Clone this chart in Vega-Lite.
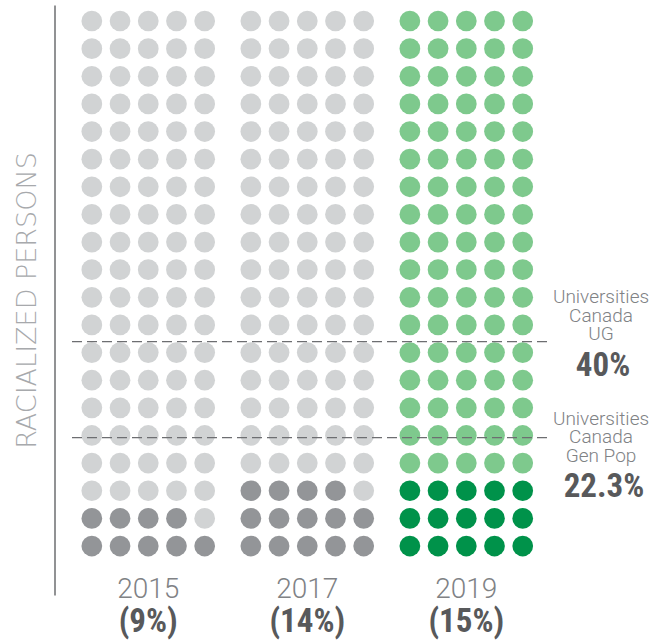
{
  "$schema": "https://vega.github.io/schema/vega-lite/v6.json",
  "width": 475,
  "height": 590,
  "autosize": {"type": "none"},
  "padding": {"left": 72, "top": 5, "right": 121, "bottom": 47},
  "background": "white",
  "config": {"view": {"stroke": null}},
  "datasets": {
    "dots": [
      {"year":"2015","row":1,"col":1,"racialized":true},{"year":"2015","row":1,"col":2,"racialized":true},{"year":"2015","row":1,"col":3,"racialized":true},{"year":"2015","row":1,"col":4,"racialized":true},{"year":"2015","row":1,"col":5,"racialized":true},
      {"year":"2015","row":2,"col":1,"racialized":true},{"year":"2015","row":2,"col":2,"racialized":true},{"year":"2015","row":2,"col":3,"racialized":true},{"year":"2015","row":2,"col":4,"racialized":true},{"year":"2015","row":2,"col":5,"racialized":false},
      {"year":"2015","row":3,"col":1,"racialized":false},{"year":"2015","row":3,"col":2,"racialized":false},{"year":"2015","row":3,"col":3,"racialized":false},{"year":"2015","row":3,"col":4,"racialized":false},{"year":"2015","row":3,"col":5,"racialized":false},
      {"year":"2015","row":4,"col":1,"racialized":false},{"year":"2015","row":4,"col":2,"racialized":false},{"year":"2015","row":4,"col":3,"racialized":false},{"year":"2015","row":4,"col":4,"racialized":false},{"year":"2015","row":4,"col":5,"racialized":false},
      {"year":"2015","row":5,"col":1,"racialized":false},{"year":"2015","row":5,"col":2,"racialized":false},{"year":"2015","row":5,"col":3,"racialized":false},{"year":"2015","row":5,"col":4,"racialized":false},{"year":"2015","row":5,"col":5,"racialized":false},
      {"year":"2015","row":6,"col":1,"racialized":false},{"year":"2015","row":6,"col":2,"racialized":false},{"year":"2015","row":6,"col":3,"racialized":false},{"year":"2015","row":6,"col":4,"racialized":false},{"year":"2015","row":6,"col":5,"racialized":false},
      {"year":"2015","row":7,"col":1,"racialized":false},{"year":"2015","row":7,"col":2,"racialized":false},{"year":"2015","row":7,"col":3,"racialized":false},{"year":"2015","row":7,"col":4,"racialized":false},{"year":"2015","row":7,"col":5,"racialized":false},
      {"year":"2015","row":8,"col":1,"racialized":false},{"year":"2015","row":8,"col":2,"racialized":false},{"year":"2015","row":8,"col":3,"racialized":false},{"year":"2015","row":8,"col":4,"racialized":false},{"year":"2015","row":8,"col":5,"racialized":false},
      {"year":"2015","row":9,"col":1,"racialized":false},{"year":"2015","row":9,"col":2,"racialized":false},{"year":"2015","row":9,"col":3,"racialized":false},{"year":"2015","row":9,"col":4,"racialized":false},{"year":"2015","row":9,"col":5,"racialized":false},
      {"year":"2015","row":10,"col":1,"racialized":false},{"year":"2015","row":10,"col":2,"racialized":false},{"year":"2015","row":10,"col":3,"racialized":false},{"year":"2015","row":10,"col":4,"racialized":false},{"year":"2015","row":10,"col":5,"racialized":false},
      {"year":"2015","row":11,"col":1,"racialized":false},{"year":"2015","row":11,"col":2,"racialized":false},{"year":"2015","row":11,"col":3,"racialized":false},{"year":"2015","row":11,"col":4,"racialized":false},{"year":"2015","row":11,"col":5,"racialized":false},
      {"year":"2015","row":12,"col":1,"racialized":false},{"year":"2015","row":12,"col":2,"racialized":false},{"year":"2015","row":12,"col":3,"racialized":false},{"year":"2015","row":12,"col":4,"racialized":false},{"year":"2015","row":12,"col":5,"racialized":false},
      {"year":"2015","row":13,"col":1,"racialized":false},{"year":"2015","row":13,"col":2,"racialized":false},{"year":"2015","row":13,"col":3,"racialized":false},{"year":"2015","row":13,"col":4,"racialized":false},{"year":"2015","row":13,"col":5,"racialized":false},
      {"year":"2015","row":14,"col":1,"racialized":false},{"year":"2015","row":14,"col":2,"racialized":false},{"year":"2015","row":14,"col":3,"racialized":false},{"year":"2015","row":14,"col":4,"racialized":false},{"year":"2015","row":14,"col":5,"racialized":false},
      {"year":"2015","row":15,"col":1,"racialized":false},{"year":"2015","row":15,"col":2,"racialized":false},{"year":"2015","row":15,"col":3,"racialized":false},{"year":"2015","row":15,"col":4,"racialized":false},{"year":"2015","row":15,"col":5,"racialized":false},
      {"year":"2015","row":16,"col":1,"racialized":false},{"year":"2015","row":16,"col":2,"racialized":false},{"year":"2015","row":16,"col":3,"racialized":false},{"year":"2015","row":16,"col":4,"racialized":false},{"year":"2015","row":16,"col":5,"racialized":false},
      {"year":"2015","row":17,"col":1,"racialized":false},{"year":"2015","row":17,"col":2,"racialized":false},{"year":"2015","row":17,"col":3,"racialized":false},{"year":"2015","row":17,"col":4,"racialized":false},{"year":"2015","row":17,"col":5,"racialized":false},
      {"year":"2015","row":18,"col":1,"racialized":false},{"year":"2015","row":18,"col":2,"racialized":false},{"year":"2015","row":18,"col":3,"racialized":false},{"year":"2015","row":18,"col":4,"racialized":false},{"year":"2015","row":18,"col":5,"racialized":false},
      {"year":"2015","row":19,"col":1,"racialized":false},{"year":"2015","row":19,"col":2,"racialized":false},{"year":"2015","row":19,"col":3,"racialized":false},{"year":"2015","row":19,"col":4,"racialized":false},{"year":"2015","row":19,"col":5,"racialized":false},
      {"year":"2015","row":20,"col":1,"racialized":false},{"year":"2015","row":20,"col":2,"racialized":false},{"year":"2015","row":20,"col":3,"racialized":false},{"year":"2015","row":20,"col":4,"racialized":false},{"year":"2015","row":20,"col":5,"racialized":false},
      {"year":"2017","row":1,"col":1,"racialized":true},{"year":"2017","row":1,"col":2,"racialized":true},{"year":"2017","row":1,"col":3,"racialized":true},{"year":"2017","row":1,"col":4,"racialized":true},{"year":"2017","row":1,"col":5,"racialized":true},
      {"year":"2017","row":2,"col":1,"racialized":true},{"year":"2017","row":2,"col":2,"racialized":true},{"year":"2017","row":2,"col":3,"racialized":true},{"year":"2017","row":2,"col":4,"racialized":true},{"year":"2017","row":2,"col":5,"racialized":true},
      {"year":"2017","row":3,"col":1,"racialized":true},{"year":"2017","row":3,"col":2,"racialized":true},{"year":"2017","row":3,"col":3,"racialized":true},{"year":"2017","row":3,"col":4,"racialized":true},{"year":"2017","row":3,"col":5,"racialized":false},
      {"year":"2017","row":4,"col":1,"racialized":false},{"year":"2017","row":4,"col":2,"racialized":false},{"year":"2017","row":4,"col":3,"racialized":false},{"year":"2017","row":4,"col":4,"racialized":false},{"year":"2017","row":4,"col":5,"racialized":false},
      {"year":"2017","row":5,"col":1,"racialized":false},{"year":"2017","row":5,"col":2,"racialized":false},{"year":"2017","row":5,"col":3,"racialized":false},{"year":"2017","row":5,"col":4,"racialized":false},{"year":"2017","row":5,"col":5,"racialized":false},
      {"year":"2017","row":6,"col":1,"racialized":false},{"year":"2017","row":6,"col":2,"racialized":false},{"year":"2017","row":6,"col":3,"racialized":false},{"year":"2017","row":6,"col":4,"racialized":false},{"year":"2017","row":6,"col":5,"racialized":false},
      {"year":"2017","row":7,"col":1,"racialized":false},{"year":"2017","row":7,"col":2,"racialized":false},{"year":"2017","row":7,"col":3,"racialized":false},{"year":"2017","row":7,"col":4,"racialized":false},{"year":"2017","row":7,"col":5,"racialized":false},
      {"year":"2017","row":8,"col":1,"racialized":false},{"year":"2017","row":8,"col":2,"racialized":false},{"year":"2017","row":8,"col":3,"racialized":false},{"year":"2017","row":8,"col":4,"racialized":false},{"year":"2017","row":8,"col":5,"racialized":false},
      {"year":"2017","row":9,"col":1,"racialized":false},{"year":"2017","row":9,"col":2,"racialized":false},{"year":"2017","row":9,"col":3,"racialized":false},{"year":"2017","row":9,"col":4,"racialized":false},{"year":"2017","row":9,"col":5,"racialized":false},
      {"year":"2017","row":10,"col":1,"racialized":false},{"year":"2017","row":10,"col":2,"racialized":false},{"year":"2017","row":10,"col":3,"racialized":false},{"year":"2017","row":10,"col":4,"racialized":false},{"year":"2017","row":10,"col":5,"racialized":false},
      {"year":"2017","row":11,"col":1,"racialized":false},{"year":"2017","row":11,"col":2,"racialized":false},{"year":"2017","row":11,"col":3,"racialized":false},{"year":"2017","row":11,"col":4,"racialized":false},{"year":"2017","row":11,"col":5,"racialized":false},
      {"year":"2017","row":12,"col":1,"racialized":false},{"year":"2017","row":12,"col":2,"racialized":false},{"year":"2017","row":12,"col":3,"racialized":false},{"year":"2017","row":12,"col":4,"racialized":false},{"year":"2017","row":12,"col":5,"racialized":false},
      {"year":"2017","row":13,"col":1,"racialized":false},{"year":"2017","row":13,"col":2,"racialized":false},{"year":"2017","row":13,"col":3,"racialized":false},{"year":"2017","row":13,"col":4,"racialized":false},{"year":"2017","row":13,"col":5,"racialized":false},
      {"year":"2017","row":14,"col":1,"racialized":false},{"year":"2017","row":14,"col":2,"racialized":false},{"year":"2017","row":14,"col":3,"racialized":false},{"year":"2017","row":14,"col":4,"racialized":false},{"year":"2017","row":14,"col":5,"racialized":false},
      {"year":"2017","row":15,"col":1,"racialized":false},{"year":"2017","row":15,"col":2,"racialized":false},{"year":"2017","row":15,"col":3,"racialized":false},{"year":"2017","row":15,"col":4,"racialized":false},{"year":"2017","row":15,"col":5,"racialized":false},
      {"year":"2017","row":16,"col":1,"racialized":false},{"year":"2017","row":16,"col":2,"racialized":false},{"year":"2017","row":16,"col":3,"racialized":false},{"year":"2017","row":16,"col":4,"racialized":false},{"year":"2017","row":16,"col":5,"racialized":false},
      {"year":"2017","row":17,"col":1,"racialized":false},{"year":"2017","row":17,"col":2,"racialized":false},{"year":"2017","row":17,"col":3,"racialized":false},{"year":"2017","row":17,"col":4,"racialized":false},{"year":"2017","row":17,"col":5,"racialized":false},
      {"year":"2017","row":18,"col":1,"racialized":false},{"year":"2017","row":18,"col":2,"racialized":false},{"year":"2017","row":18,"col":3,"racialized":false},{"year":"2017","row":18,"col":4,"racialized":false},{"year":"2017","row":18,"col":5,"racialized":false},
      {"year":"2017","row":19,"col":1,"racialized":false},{"year":"2017","row":19,"col":2,"racialized":false},{"year":"2017","row":19,"col":3,"racialized":false},{"year":"2017","row":19,"col":4,"racialized":false},{"year":"2017","row":19,"col":5,"racialized":false},
      {"year":"2017","row":20,"col":1,"racialized":false},{"year":"2017","row":20,"col":2,"racialized":false},{"year":"2017","row":20,"col":3,"racialized":false},{"year":"2017","row":20,"col":4,"racialized":false},{"year":"2017","row":20,"col":5,"racialized":false},
      {"year":"2019","row":1,"col":1,"racialized":true},{"year":"2019","row":1,"col":2,"racialized":true},{"year":"2019","row":1,"col":3,"racialized":true},{"year":"2019","row":1,"col":4,"racialized":true},{"year":"2019","row":1,"col":5,"racialized":true},
      {"year":"2019","row":2,"col":1,"racialized":true},{"year":"2019","row":2,"col":2,"racialized":true},{"year":"2019","row":2,"col":3,"racialized":true},{"year":"2019","row":2,"col":4,"racialized":true},{"year":"2019","row":2,"col":5,"racialized":true},
      {"year":"2019","row":3,"col":1,"racialized":true},{"year":"2019","row":3,"col":2,"racialized":true},{"year":"2019","row":3,"col":3,"racialized":true},{"year":"2019","row":3,"col":4,"racialized":true},{"year":"2019","row":3,"col":5,"racialized":true},
      {"year":"2019","row":4,"col":1,"racialized":false},{"year":"2019","row":4,"col":2,"racialized":false},{"year":"2019","row":4,"col":3,"racialized":false},{"year":"2019","row":4,"col":4,"racialized":false},{"year":"2019","row":4,"col":5,"racialized":false},
      {"year":"2019","row":5,"col":1,"racialized":false},{"year":"2019","row":5,"col":2,"racialized":false},{"year":"2019","row":5,"col":3,"racialized":false},{"year":"2019","row":5,"col":4,"racialized":false},{"year":"2019","row":5,"col":5,"racialized":false},
      {"year":"2019","row":6,"col":1,"racialized":false},{"year":"2019","row":6,"col":2,"racialized":false},{"year":"2019","row":6,"col":3,"racialized":false},{"year":"2019","row":6,"col":4,"racialized":false},{"year":"2019","row":6,"col":5,"racialized":false},
      {"year":"2019","row":7,"col":1,"racialized":false},{"year":"2019","row":7,"col":2,"racialized":false},{"year":"2019","row":7,"col":3,"racialized":false},{"year":"2019","row":7,"col":4,"racialized":false},{"year":"2019","row":7,"col":5,"racialized":false},
      {"year":"2019","row":8,"col":1,"racialized":false},{"year":"2019","row":8,"col":2,"racialized":false},{"year":"2019","row":8,"col":3,"racialized":false},{"year":"2019","row":8,"col":4,"racialized":false},{"year":"2019","row":8,"col":5,"racialized":false},
      {"year":"2019","row":9,"col":1,"racialized":false},{"year":"2019","row":9,"col":2,"racialized":false},{"year":"2019","row":9,"col":3,"racialized":false},{"year":"2019","row":9,"col":4,"racialized":false},{"year":"2019","row":9,"col":5,"racialized":false},
      {"year":"2019","row":10,"col":1,"racialized":false},{"year":"2019","row":10,"col":2,"racialized":false},{"year":"2019","row":10,"col":3,"racialized":false},{"year":"2019","row":10,"col":4,"racialized":false},{"year":"2019","row":10,"col":5,"racialized":false},
      {"year":"2019","row":11,"col":1,"racialized":false},{"year":"2019","row":11,"col":2,"racialized":false},{"year":"2019","row":11,"col":3,"racialized":false},{"year":"2019","row":11,"col":4,"racialized":false},{"year":"2019","row":11,"col":5,"racialized":false},
      {"year":"2019","row":12,"col":1,"racialized":false},{"year":"2019","row":12,"col":2,"racialized":false},{"year":"2019","row":12,"col":3,"racialized":false},{"year":"2019","row":12,"col":4,"racialized":false},{"year":"2019","row":12,"col":5,"racialized":false},
      {"year":"2019","row":13,"col":1,"racialized":false},{"year":"2019","row":13,"col":2,"racialized":false},{"year":"2019","row":13,"col":3,"racialized":false},{"year":"2019","row":13,"col":4,"racialized":false},{"year":"2019","row":13,"col":5,"racialized":false},
      {"year":"2019","row":14,"col":1,"racialized":false},{"year":"2019","row":14,"col":2,"racialized":false},{"year":"2019","row":14,"col":3,"racialized":false},{"year":"2019","row":14,"col":4,"racialized":false},{"year":"2019","row":14,"col":5,"racialized":false},
      {"year":"2019","row":15,"col":1,"racialized":false},{"year":"2019","row":15,"col":2,"racialized":false},{"year":"2019","row":15,"col":3,"racialized":false},{"year":"2019","row":15,"col":4,"racialized":false},{"year":"2019","row":15,"col":5,"racialized":false},
      {"year":"2019","row":16,"col":1,"racialized":false},{"year":"2019","row":16,"col":2,"racialized":false},{"year":"2019","row":16,"col":3,"racialized":false},{"year":"2019","row":16,"col":4,"racialized":false},{"year":"2019","row":16,"col":5,"racialized":false},
      {"year":"2019","row":17,"col":1,"racialized":false},{"year":"2019","row":17,"col":2,"racialized":false},{"year":"2019","row":17,"col":3,"racialized":false},{"year":"2019","row":17,"col":4,"racialized":false},{"year":"2019","row":17,"col":5,"racialized":false},
      {"year":"2019","row":18,"col":1,"racialized":false},{"year":"2019","row":18,"col":2,"racialized":false},{"year":"2019","row":18,"col":3,"racialized":false},{"year":"2019","row":18,"col":4,"racialized":false},{"year":"2019","row":18,"col":5,"racialized":false},
      {"year":"2019","row":19,"col":1,"racialized":false},{"year":"2019","row":19,"col":2,"racialized":false},{"year":"2019","row":19,"col":3,"racialized":false},{"year":"2019","row":19,"col":4,"racialized":false},{"year":"2019","row":19,"col":5,"racialized":false},
      {"year":"2019","row":20,"col":1,"racialized":false},{"year":"2019","row":20,"col":2,"racialized":false},{"year":"2019","row":20,"col":3,"racialized":false},{"year":"2019","row":20,"col":4,"racialized":false},{"year":"2019","row":20,"col":5,"racialized":false}
    ],
    "shares": [
      {"year": "2015", "share": "(9%)"},
      {"year": "2017", "share": "(14%)"},
      {"year": "2019", "share": "(15%)"}
    ],
    "refs": [
      {"label": ["Universities", "Canada", "UG"], "value": 40, "display": "40%"},
      {"label": ["Universities", "Canada", "Gen Pop"], "value": 22.3, "display": "22.3%"}
    ]
  },
  "resolve": {"scale": {"y": "independent"}, "axis": {"y": "independent"}},
  "layer": [
    {
      "layer": [
        {
          "data": {"name": "dots"},
          "mark": {"type": "circle", "size": 430, "opacity": 1, "filled": true},
          "encoding": {
            "x": {
              "field": "year", "type": "nominal",
              "scale": {"paddingInner": 0.113, "paddingOuter": 0.05, "align": 0.36},
              "axis": {
                "title": null, "domain": false, "ticks": false, "labelAngle": 0,
                "labelFont": "Roboto", "labelFontWeight": 300, "labelFontSize": 28,
                "labelColor": "#808285", "labelPadding": 2, "labelBaseline": "alphabetic"
              }
            },
            "xOffset": {"field": "col", "type": "ordinal", "scale": {"type": "band", "paddingInner": 0, "paddingOuter": 0}},
            "y": {
              "field": "row", "type": "quantitative",
              "scale": {"domain": [-0.773, 20.579], "nice": false, "zero": false},
              "axis": {
                "title": "RACIALIZED PERSONS", "labels": false, "ticks": false, "grid": false,
                "domain": true, "domainColor": "#6d6e71", "domainWidth": 1.5, "offset": 17.5,
                "titleFont": "DejaVu Sans", "titleFontWeight": 200, "titleFontSize": 27,
                "titleColor": "#a7a9ac", "titlePadding": 19, "titleBaseline": "alphabetic"
              }
            },
            "color": {
              "condition": [
                {"test": "datum.year === '2019' && datum.racialized", "value": "#00924a"},
                {"test": "datum.year === '2019'", "value": "#7ec98d"},
                {"test": "datum.racialized", "value": "#939598"}
              ],
              "value": "#d1d3d4"
            }
          }
        },
        {
          "data": {"name": "shares"},
          "mark": {
            "type": "text", "font": "Roboto Condensed, Roboto",
            "fontWeight": "bold", "fontSize": 33, "color": "#58595b", "baseline": "alphabetic", "align": "center"
          },
          "encoding": {
            "x": {"field": "year", "type": "nominal"},
            "y": {"datum": -2.1, "type": "quantitative"},
            "text": {"field": "share"}
          }
        }
      ]
    },
    {
      "layer": [
        {
          "data": {"name": "refs"},
          "mark": {"type": "rule", "strokeDash": [10, 5], "color": "#6d6e71", "strokeWidth": 1.3},
          "encoding": {
            "y": {
              "field": "value", "type": "quantitative",
              "scale": {"domain": [-6.71, 102.06], "nice": false, "zero": false},
              "axis": null
            }
          }
        },
        {
          "data": {"name": "refs"},
          "transform": [{"filter": "datum.value === 40"}],
          "mark": {
            "type": "text", "font": "Roboto", "fontWeight": 300, "fontSize": 19, "lineHeight": 18.4,
            "color": "#808285", "align": "center", "baseline": "alphabetic", "dx": 54, "dy": -38.4
          },
          "encoding": {
            "x": {"value": "width"},
            "y": {"field": "value", "type": "quantitative"},
            "text": {"field": "label"}
          }
        },
        {
          "data": {"name": "refs"},
          "transform": [{"filter": "datum.value === 40"}],
          "mark": {
            "type": "text", "font": "Roboto Condensed, Roboto",
            "fontWeight": "bold", "fontSize": 33, "color": "#58595b", "align": "center",
            "baseline": "alphabetic", "dx": 56, "dy": 34.3
          },
          "encoding": {
            "x": {"value": "width"},
            "y": {"field": "value", "type": "quantitative"},
            "text": {"field": "display"}
          }
        },
        {
          "data": {"name": "refs"},
          "transform": [{"filter": "datum.value === 22.3"}],
          "mark": {
            "type": "text", "font": "Roboto", "fontWeight": 300, "fontSize": 19, "lineHeight": 18.4,
            "color": "#808285", "align": "center", "baseline": "alphabetic", "dx": 54, "dy": -12.7
          },
          "encoding": {
            "x": {"value": "width"},
            "y": {"field": "value", "type": "quantitative"},
            "text": {"field": "label"}
          }
        },
        {
          "data": {"name": "refs"},
          "transform": [{"filter": "datum.value === 22.3"}],
          "mark": {
            "type": "text", "font": "Roboto Condensed, Roboto",
            "fontWeight": "bold", "fontSize": 33, "color": "#58595b", "align": "center",
            "baseline": "alphabetic", "dx": 57, "dy": 59
          },
          "encoding": {
            "x": {"value": "width"},
            "y": {"field": "value", "type": "quantitative"},
            "text": {"field": "display"}
          }
        }
      ]
    }
  ]
}
